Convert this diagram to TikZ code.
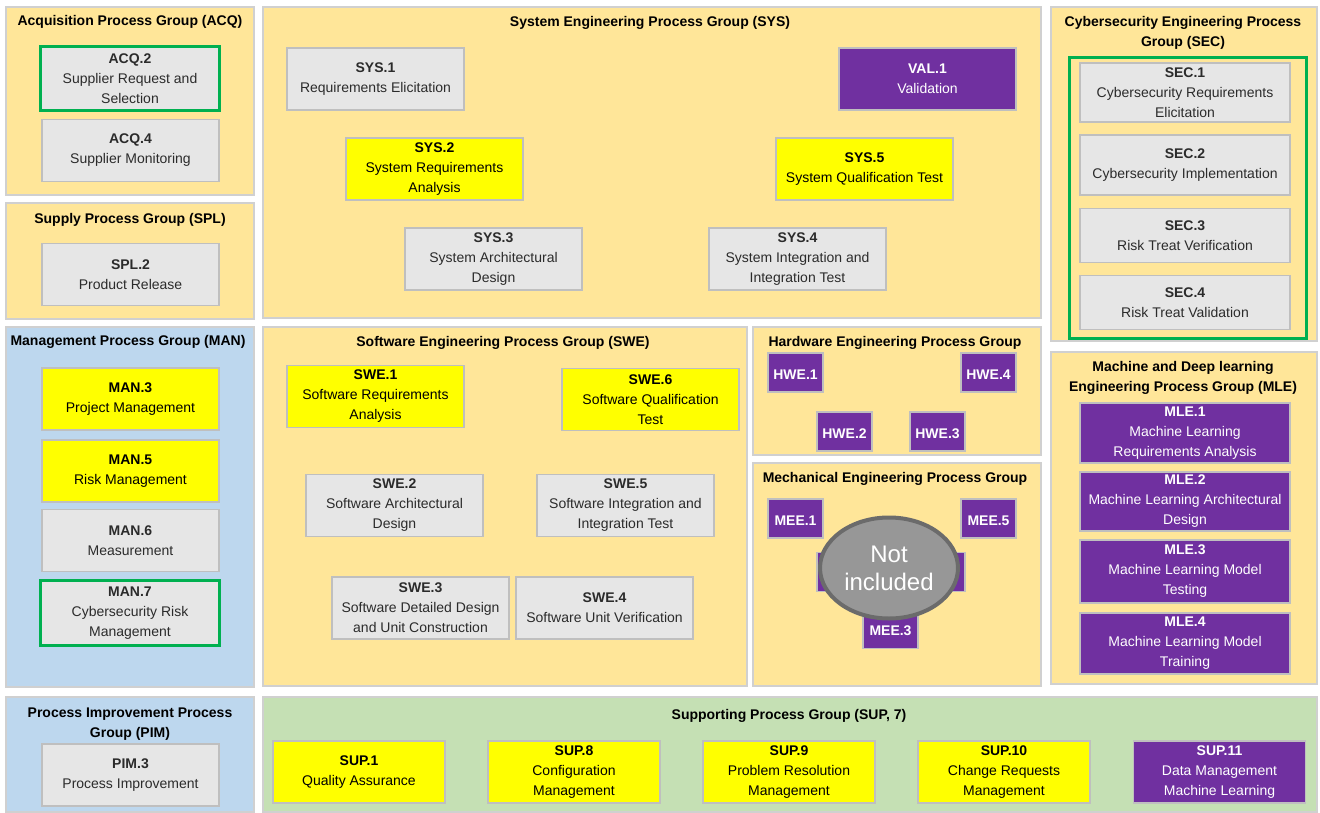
\documentclass[tikz,border=0pt]{standalone}
\usepackage{fontspec}
\setmainfont{Liberation Sans}
\usepackage{tikz}
\usepackage{xcolor}
\usetikzlibrary{shapes.geometric}

\definecolor{grpgold}{HTML}{FFE699}
\definecolor{grpblue}{HTML}{BDD7EE}
\definecolor{grpgreen}{HTML}{C5E0B4}
\definecolor{grpline}{HTML}{D0D0D0}
\definecolor{procgray}{HTML}{E6E6E6}
\definecolor{procline}{HTML}{BFBFBF}
\definecolor{procyellow}{HTML}{FFFF00}
\definecolor{procpurple}{HTML}{7030A0}
\definecolor{cybergreen}{HTML}{00B050}
\definecolor{txtdark}{HTML}{2B2B2B}
\definecolor{notfill}{HTML}{979797}
\definecolor{notline}{HTML}{6B6B6B}

\tikzset{
	grp/.style={draw=grpline, line width=1pt},
	grptitle/.style={font=\bfseries\fontsize{10.5pt}{15pt}\selectfont, align=center, inner sep=0pt},
	proc/.style={draw=procline, line width=0.8pt, inner sep=0pt, align=center, minimum width=132.75pt, minimum height=46.5pt, font=\fontsize{10.5pt}{15pt}\selectfont, execute at begin node={\rule{0pt}{10.5pt}}},
	greybox/.style={proc, fill=procgray, text=txtdark},
	yellowbox/.style={proc, fill=procyellow, text=black},
	purplebox/.style={proc, fill=procpurple, text=white},
	smallbox/.style={purplebox, minimum width=41.25pt, minimum height=29.25pt, font=\bfseries\fontsize{10.5pt}{15pt}\selectfont, execute at begin node={}},
	cyberbox/.style={draw=cybergreen, line width=2.25pt},
}

\begin{document}
\begin{tikzpicture}[x=0.75pt, y=-0.75pt]
	\useasboundingbox (0,0) rectangle (1320,813);
	
	\filldraw[grp, fill=grpgold] (6,7) rectangle (254,195);
	\filldraw[grp, fill=grpgold] (6,203) rectangle (254,319);
	\filldraw[grp, fill=grpblue] (6,327) rectangle (254,687);
	\filldraw[grp, fill=grpblue] (6,697) rectangle (254,812);
	\filldraw[grp, fill=grpgold] (263,7) rectangle (1041,318);
	\filldraw[grp, fill=grpgold] (263,327) rectangle (747,686);
	\filldraw[grp, fill=grpgold] (753,327) rectangle (1041,455);
	\filldraw[grp, fill=grpgold] (753,463) rectangle (1041,686);
	\filldraw[grp, fill=grpgold] (1051,7) rectangle (1317,341);
	\filldraw[grp, fill=grpgold] (1051,352) rectangle (1317,684);
	\filldraw[grp, fill=grpgreen] (263,697) rectangle (1317,812);
	
	\node[grptitle] (acqtitle) at (130,21.5) {Acquisition Process Group (ACQ)};
	\node[grptitle] (spltitle) at (130,219.5) {Supply Process Group (SPL)};
	\node[grptitle] (mantitle) at (128,341.5) {Management Process Group (MAN)};
	\node[grptitle] (pimtitle) at (130,724.5) {Process Improvement Process\\Group (PIM)};
	\node[grptitle] (systitle) at (650,22.5) {System Engineering Process Group (SYS)};
	\node[grptitle] (swetitle) at (503,342.5) {Software Engineering Process Group (SWE)};
	\node[grptitle] (hwetitle) at (895,342.5) {Hardware Engineering Process Group};
	\node[grptitle] (meetitle) at (895,478.5) {Mechanical Engineering Process Group};
	\node[grptitle] (sectitle) at (1183,32.5) {Cybersecurity Engineering Process\\Group (SEC)};
	\node[grptitle] (mletitle) at (1183,377.5) {Machine and Deep learning\\Engineering Process Group (MLE)};
	\node[grptitle] (suptitle) at (789,715.5) {Supporting Process Group (SUP, 7)};
	
	\node[greybox, draw=cybergreen, line width=2.25pt, minimum width=134.25pt, minimum height=48pt] (acq2) at (130,78.5) {\textbf{ACQ.2}\\Supplier Request and\\Selection};
	\node[greybox] (acq4) at (130.5,150.5) {\textbf{ACQ.4}\\Supplier Monitoring};
	\node[greybox] (spl2) at (130.5,274.5) {\textbf{SPL.2}\\Product Release};
	
	\node[yellowbox] (man3) at (130.5,399) {\textbf{MAN.3}\\Project Management};
	\node[yellowbox] (man5) at (130.5,471) {\textbf{MAN.5}\\Risk Management};
	\node[greybox] (man6) at (130.5,540.5) {\textbf{MAN.6}\\Measurement};
	\node[greybox, draw=cybergreen, line width=2.25pt, minimum width=134.25pt, minimum height=48.75pt] (man7) at (130,613) {\textbf{MAN.7}\\Cybersecurity Risk\\Management};
	\node[greybox] (pim3) at (130.5,775) {\textbf{PIM.3}\\Process Improvement};
	
	\node[greybox] (sys1) at (375.5,79) {\textbf{SYS.1}\\Requirements Elicitation};
	\node[purplebox] (val1) at (927.5,79) {\textbf{VAL.1}\\Validation};
	\node[yellowbox] (sys2) at (434.5,169) {\textbf{SYS.2}\\System Requirements\\Analysis};
	\node[yellowbox] (sys5) at (864.5,169) {\textbf{SYS.5}\\System Qualification Test};
	\node[greybox] (sys3) at (493.5,259) {\textbf{SYS.3}\\System Architectural\\Design};
	\node[greybox] (sys4) at (797.5,259) {\textbf{SYS.4}\\System Integration and\\Integration Test};
	
	\draw[cyberbox] (1069.5,57.5) rectangle (1306.5,338.5);
	\node[greybox, minimum width=157.5pt, minimum height=44.25pt] (sec1) at (1185,92.5) {\textbf{SEC.1}\\Cybersecurity Requirements\\Elicitation};
	\node[greybox, minimum width=157.5pt, minimum height=45pt] (sec2) at (1185,165) {\textbf{SEC.2}\\Cybersecurity Implementation};
	\node[greybox, minimum width=157.5pt, minimum height=40.5pt] (sec3) at (1185,235.5) {\textbf{SEC.3}\\Risk Treat Verification};
	\node[greybox, minimum width=157.5pt, minimum height=40.5pt] (sec4) at (1185,302.5) {\textbf{SEC.4}\\Risk Treat Validation};
	
	\node[purplebox, minimum width=157.5pt, minimum height=45pt] (mle1) at (1185,433) {\textbf{MLE.1}\\Machine Learning\\Requirements Analysis};
	\node[purplebox, minimum width=157.5pt, minimum height=44.25pt] (mle2) at (1185,501.5) {\textbf{MLE.2}\\Machine Learning Architectural\\Design};
	\node[purplebox, minimum width=157.5pt, minimum height=47.25pt] (mle3) at (1185,571.5) {\textbf{MLE.3}\\Machine Learning Model\\Testing};
	\node[purplebox, minimum width=157.5pt, minimum height=45.75pt] (mle4) at (1185,643.5) {\textbf{MLE.4}\\Machine Learning Model\\Training};
	
	\node[yellowbox] (swe1) at (375.5,396.5) {\textbf{SWE.1}\\Software Requirements\\Analysis};
	\node[yellowbox] (swe6) at (650.5,399.5) {\textbf{SWE.6}\\Software Qualification\\Test};
	\node[greybox] (swe2) at (394.5,505.5) {\textbf{SWE.2}\\Software Architectural\\Design};
	\node[greybox] (swe5) at (625.5,505.5) {\textbf{SWE.5}\\Software Integration and\\Integration Test};
	\node[greybox] (swe3) at (420.5,608) {\textbf{SWE.3}\\Software Detailed Design\\and Unit Construction};
	\node[greybox] (swe4) at (604.5,608) {\textbf{SWE.4}\\Software Unit Verification};
	
	\node[smallbox] (hwe1) at (795.5,372.5) {HWE.1};
	\node[smallbox] (hwe4) at (988.5,372.5) {HWE.4};
	\node[smallbox] (hwe2) at (844.5,431.5) {HWE.2};
	\node[smallbox] (hwe3) at (937.5,431.5) {HWE.3};
	
	\node[smallbox] (mee1) at (795.5,518.5) {MEE.1};
	\node[smallbox] (mee5) at (988.5,518.5) {MEE.5};
	\node[smallbox] (mee2) at (844.5,572) {};
	\node[smallbox] (mee4) at (937.5,572) {};
	\node[smallbox] (mee3) at (890.5,629) {MEE.3};
	\node[ellipse, draw=notline, line width=3pt, fill=notfill, inner sep=0pt, minimum width=103.5pt, minimum height=75.75pt, align=center, text=white, font=\fontsize{18pt}{21pt}\selectfont] (notincl) at (889,568) {Not\\included};
	
	\node[yellowbox, minimum width=129pt] (sup1) at (359,772) {\textbf{SUP.1}\\Quality Assurance};
	\node[yellowbox, minimum width=129pt] (sup8) at (574,772) {\textbf{SUP.8}\\Configuration\\Management};
	\node[yellowbox, minimum width=129pt] (sup9) at (789,772) {\textbf{SUP.9}\\Problem Resolution\\Management};
	\node[yellowbox, minimum width=129pt] (sup10) at (1004,772) {\textbf{SUP.10}\\Change Requests\\Management};
	\node[purplebox, minimum width=129pt] (sup11) at (1219.5,772) {\textbf{SUP.11}\\Data Management\\Machine Learning};
	
\end{tikzpicture}
\end{document}
